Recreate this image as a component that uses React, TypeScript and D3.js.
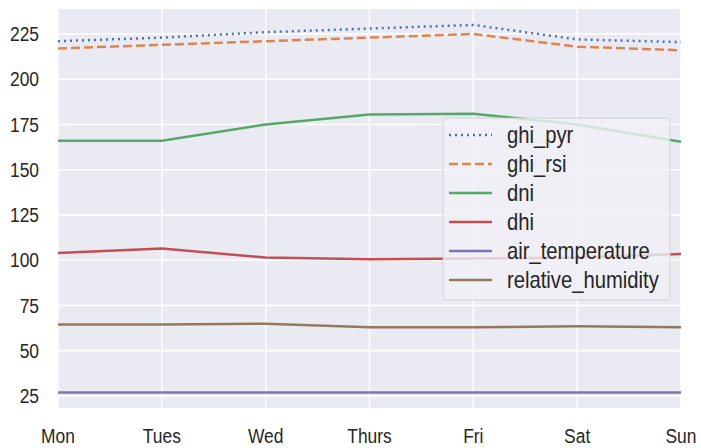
import React from 'react';
import * as d3 from 'd3';

// weekly averages
const days = ['Mon', 'Tues', 'Wed', 'Thurs', 'Fri', 'Sat', 'Sun'];
const ghiPyr = [221, 223, 226, 228, 230, 222, 220.5];
const ghiRsi = [217, 219, 221, 223, 225, 218, 216];
const dni = [166, 166, 175, 180.5, 181, 175, 165.5];
const dhi = [104, 106.5, 101.5, 100.5, 101, 101.5, 103.5];
const airTemperature = [27, 27, 27, 27, 27, 27, 27];
const relativeHumidity = [64.5, 64.5, 65, 63, 63, 63.5, 63];
const yTicks = [25, 50, 75, 100, 125, 150, 175, 200, 225];

const series = [
  { name: 'ghi_pyr', values: ghiPyr, color: '#4c72b0', dash: '2,4' },
  { name: 'ghi_rsi', values: ghiRsi, color: '#dd8452', dash: '9,4' },
  { name: 'dni', values: dni, color: '#55a868', dash: null },
  { name: 'dhi', values: dhi, color: '#c44e52', dash: null },
  { name: 'air_temperature', values: airTemperature, color: '#8172b3', dash: null },
  { name: 'relative_humidity', values: relativeHumidity, color: '#937860', dash: null },
];

const W = 701;
const H = 448;
const margin = { top: 9, right: 20, bottom: 40, left: 58 };
const font = 'Liberation Sans, Arial, sans-serif';
const textColor = '#262626';
const squeeze = 0.87; // reference text is a bit narrow

const App: React.FC = () => {
  const x = d3
    .scalePoint<string>()
    .domain(days)
    .range([margin.left, W - margin.right]);
  const y = d3
    .scaleLinear()
    .domain([18.4, 238.8])
    .range([H - margin.bottom, margin.top]);

  const line = d3
    .line<number>()
    .x((_, i) => x(days[i])!)
    .y((d) => y(d));

  const lg = { x: 443, y: 118, w: 227, h: 182, row: 29 };

  return (
    <svg
      width={W}
      height={H}
      style={{ position: 'absolute', left: 0, top: 0, background: '#fff' }}
    >
      <rect
        x={margin.left}
        y={margin.top}
        width={W - margin.left - margin.right}
        height={H - margin.top - margin.bottom}
        fill="#eaeaf2"
      />
      {/* grid */}
      {yTicks.map((t) => (
        <line
          key={'gy' + t}
          x1={margin.left}
          x2={W - margin.right}
          y1={y(t)}
          y2={y(t)}
          stroke="#fff"
          strokeWidth={1.5}
        />
      ))}
      {days.map((d) => (
        <line
          key={'gx' + d}
          x1={x(d)}
          x2={x(d)}
          y1={margin.top}
          y2={H - margin.bottom}
          stroke="#fff"
          strokeWidth={1.5}
        />
      ))}
      {/* series */}
      {series.map((s) => (
        <path
          key={s.name}
          d={line(s.values)!}
          fill="none"
          stroke={s.color}
          strokeWidth={2.5}
          strokeDasharray={s.dash ?? undefined}
        />
      ))}
      {/* y tick labels */}
      {yTicks.map((t) => (
        <text
          key={'ty' + t}
          transform={`translate(39,${y(t)}) scale(${squeeze},1)`}
          dy="0.35em"
          textAnchor="end"
          fontFamily={font}
          fontSize={20}
          fill={textColor}
        >
          {t}
        </text>
      ))}
      {/* x tick labels */}
      {days.map((d) => (
        <text
          key={'tx' + d}
          transform={`translate(${x(d)},443) scale(${squeeze},1)`}
          textAnchor="middle"
          fontFamily={font}
          fontSize={20}
          fill={textColor}
        >
          {d}
        </text>
      ))}
      {/* legend */}
      <rect
        x={lg.x}
        y={lg.y}
        width={lg.w}
        height={lg.h}
        rx={4}
        fill="#f0f0f5"
        fillOpacity={0.8}
        stroke="#cccccc"
        strokeOpacity={0.8}
      />
      {series.map((s, i) => {
        const cy = lg.y + 17 + i * lg.row;
        return (
          <g key={'lg' + s.name}>
            <line
              x1={lg.x + 6}
              x2={lg.x + 49}
              y1={cy}
              y2={cy}
              stroke={s.color}
              strokeWidth={2.5}
              strokeDasharray={s.dash ?? undefined}
            />
            <text
              transform={`translate(${lg.x + 64},${cy}) scale(0.88,1)`}
              dy="0.35em"
              fontFamily={font}
              fontSize={23}
              fill={textColor}
            >
              {s.name}
            </text>
          </g>
        );
      })}
    </svg>
  );
};

export default App;
